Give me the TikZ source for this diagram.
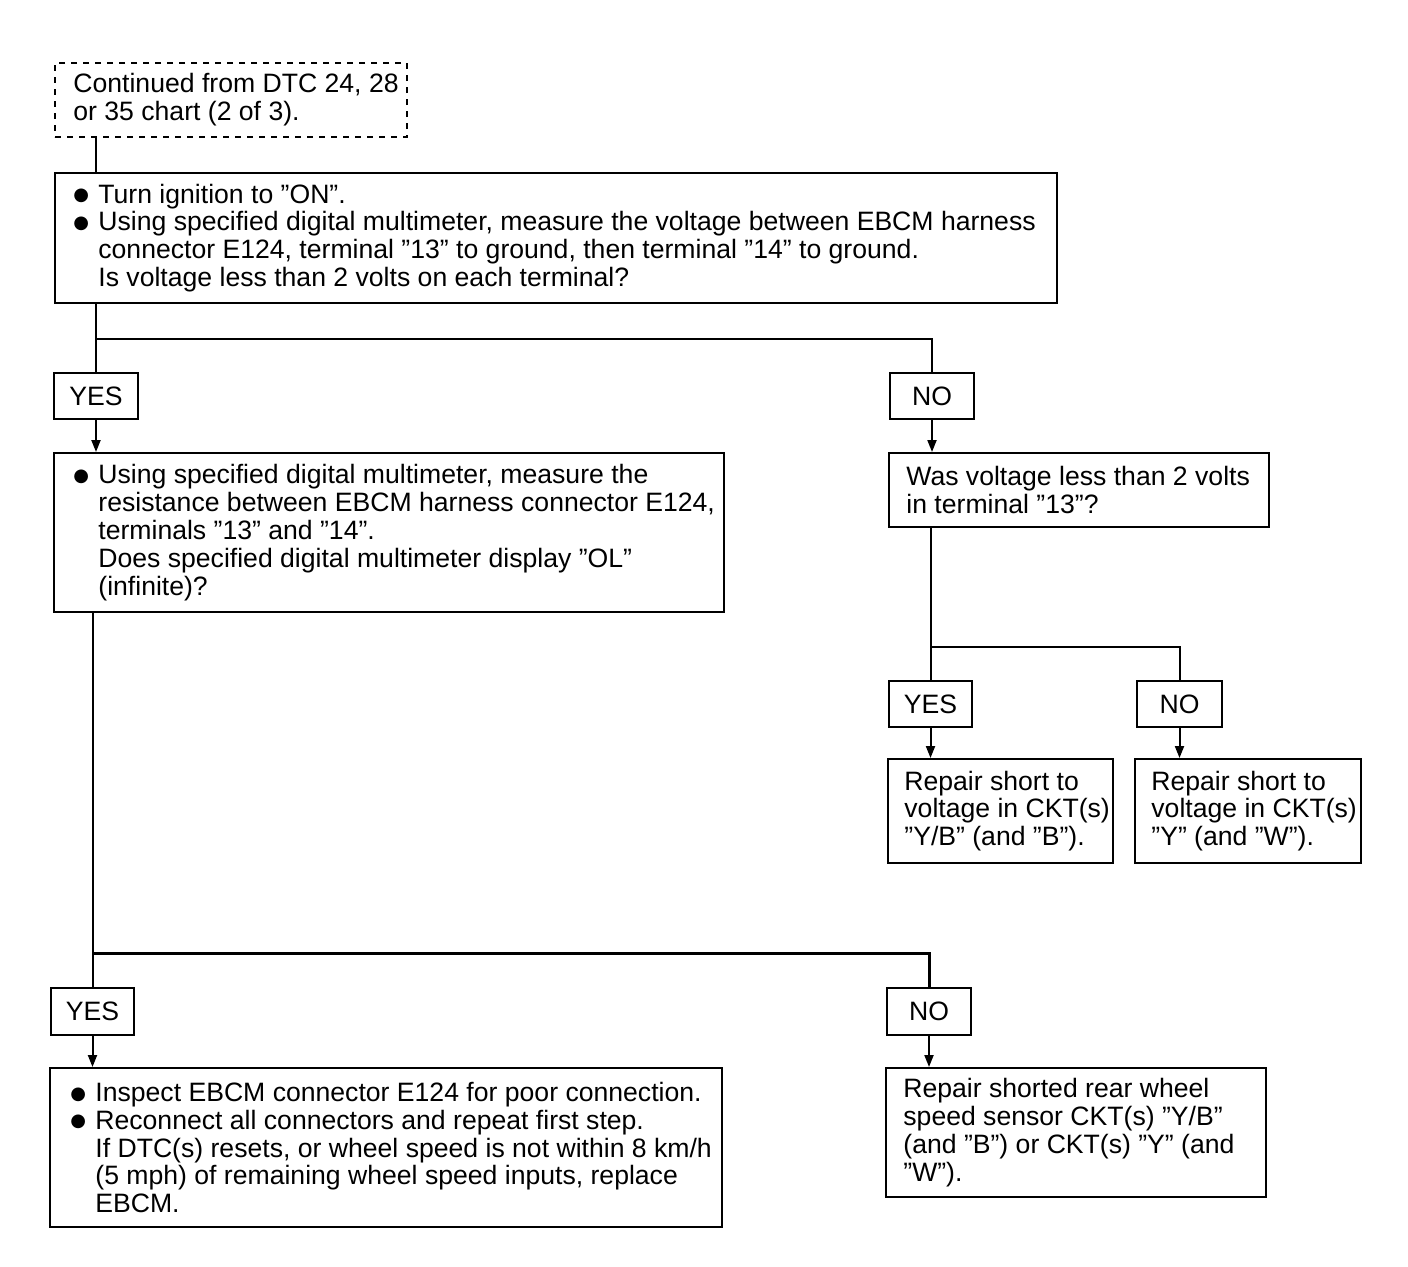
\documentclass[tikz,border=0pt]{standalone}
\usepackage{fontspec}
\setmainfont{Liberation Sans}
\newfontfamily\symf{DejaVu Sans}
\usetikzlibrary{arrows.meta}
\newcommand\mybul{\makebox[12.5pt][l]{\raisebox{1.2pt}{\symf\fontsize{9pt}{9pt}\selectfont ●}}}
\newcommand\myind{\hspace*{12.5pt}}
\newcommand\fs{\fontsize{13.3pt}{13.9pt}\selectfont}
\begin{document}
\begin{tikzpicture}[x=0.5pt,y=-0.5pt,
  box/.style={draw, line width=1pt, anchor=north west, inner sep=0pt},
  ans/.style={draw, line width=1pt, anchor=north west, minimum width=42pt, minimum height=23pt, inner sep=0pt, font=\fs},
  txt/.style={anchor=west, align=left, inner sep=0pt, font=\fs},
  conn/.style={line width=1pt},
  arr/.style={line width=1pt, -{Triangle[length=6pt,width=4.5pt]}},
]
\useasboundingbox (0,0) rectangle (1408,1266);
% boxes
\node[box, dashed, dash pattern=on 3pt off 3pt, minimum width=176pt, minimum height=37pt] (cont) at (54,62) {};
\node[txt] (contt) at ([xshift=9.5pt]cont.west) {Continued from DTC 24, 28\\or 35 chart (2 of 3).};

\node[box, minimum width=501pt, minimum height=65pt] (top) at (54,172) {};
\node[txt] (topt) at ([xshift=9.5pt]top.west) {\mybul Turn ignition to ”ON”.\\
\mybul Using specified digital multimeter, measure the voltage between EBCM harness\\
\myind connector E124, terminal ”13” to ground, then terminal ”14” to ground.\\
\myind Is voltage less than 2 volts on each terminal?};

\node[ans] (yes1) at (53,372) {YES};
\node[ans] (no1) at (889,372) {NO};

\node[box, minimum width=335pt, minimum height=79.5pt] (q2) at (53,452) {};
\node[txt] (q2t) at ([xshift=10pt]q2.west) {\mybul Using specified digital multimeter, measure the\\
\myind resistance between EBCM harness connector E124,\\
\myind terminals ”13” and ”14”.\\
\myind Does specified digital multimeter display ”OL”\\
\myind (infinite)?};

\node[box, minimum width=190pt, minimum height=37pt] (q3) at (888,452) {};
\node[txt] (q3t) at ([xshift=9pt]q3.west) {Was voltage less than 2 volts\\in terminal ”13”?};

\node[ans, minimum width=41.5pt] (yes2) at (888,680) {YES};
\node[ans, minimum width=42.5pt] (no2) at (1136,680) {NO};

\node[box, minimum width=112.5pt, minimum height=52pt] (r1) at (887,758) {};
\node[txt] (r1t) at ([xshift=8.5pt]r1.west) {Repair short to\\voltage in CKT(s)\\”Y/B” (and ”B”).};
\node[box, minimum width=113pt, minimum height=52pt] (r2) at (1134,758) {};
\node[txt] (r2t) at ([xshift=8.5pt]r2.west) {Repair short to\\voltage in CKT(s)\\”Y” (and ”W”).};

\node[ans, minimum width=41.5pt, minimum height=23.5pt] (yes3) at (50,987) {YES};
\node[ans, minimum height=23.5pt] (no3) at (886,987) {NO};

\node[box, minimum width=336pt, minimum height=79.5pt] (f1) at (49,1067) {};
\node[txt] (f1t) at ([xshift=10.5pt]f1.west) {\mybul Inspect EBCM connector E124 for poor connection.\\
\mybul Reconnect all connectors and repeat first step.\\
\myind If DTC(s) resets, or wheel speed is not within 8 km/h\\
\myind (5 mph) of remaining wheel speed inputs, replace\\
\myind EBCM.};

\node[box, minimum width=190pt, minimum height=64.5pt] (f2) at (885,1067) {};
\node[txt] (f2t) at ([xshift=9pt]f2.west) {Repair shorted rear wheel\\speed sensor CKT(s) ”Y/B”\\(and ”B”) or CKT(s) ”Y” (and\\”W”).};

% junction coordinates
\coordinate (j1) at (95,339);
\coordinate (j2) at (930,647);
\coordinate (j3) at (92,953);

% connectors
\draw[conn] (cont.south -| yes1) -- (top.north -| yes1);
\draw[conn] (top.south -| yes1) -- (yes1.north);
\draw[conn] (yes1.north |- j1) -| (no1.north);
\draw[arr] (yes1.south) -- (q2.north -| yes1);
\draw[arr] (no1.south) -- (q3.north -| no1);

\draw[conn] (q3.south -| yes2) -- (yes2.north);
\draw[conn] (yes2.north |- j2) -| (no2.north);
\draw[arr] (yes2.south) -- (r1.north -| yes2);
\draw[arr] (no2.south) -- (r2.north -| no2);

\draw[conn] (q2.south -| yes3) -- (yes3.north);
\draw[conn, line width=1.5pt] (yes3.north |- j3) -| (no3.north);
\draw[arr] (yes3.south) -- (f1.north -| yes3);
\draw[arr] (no3.south) -- (f2.north -| no3);
\end{tikzpicture}
\end{document}
